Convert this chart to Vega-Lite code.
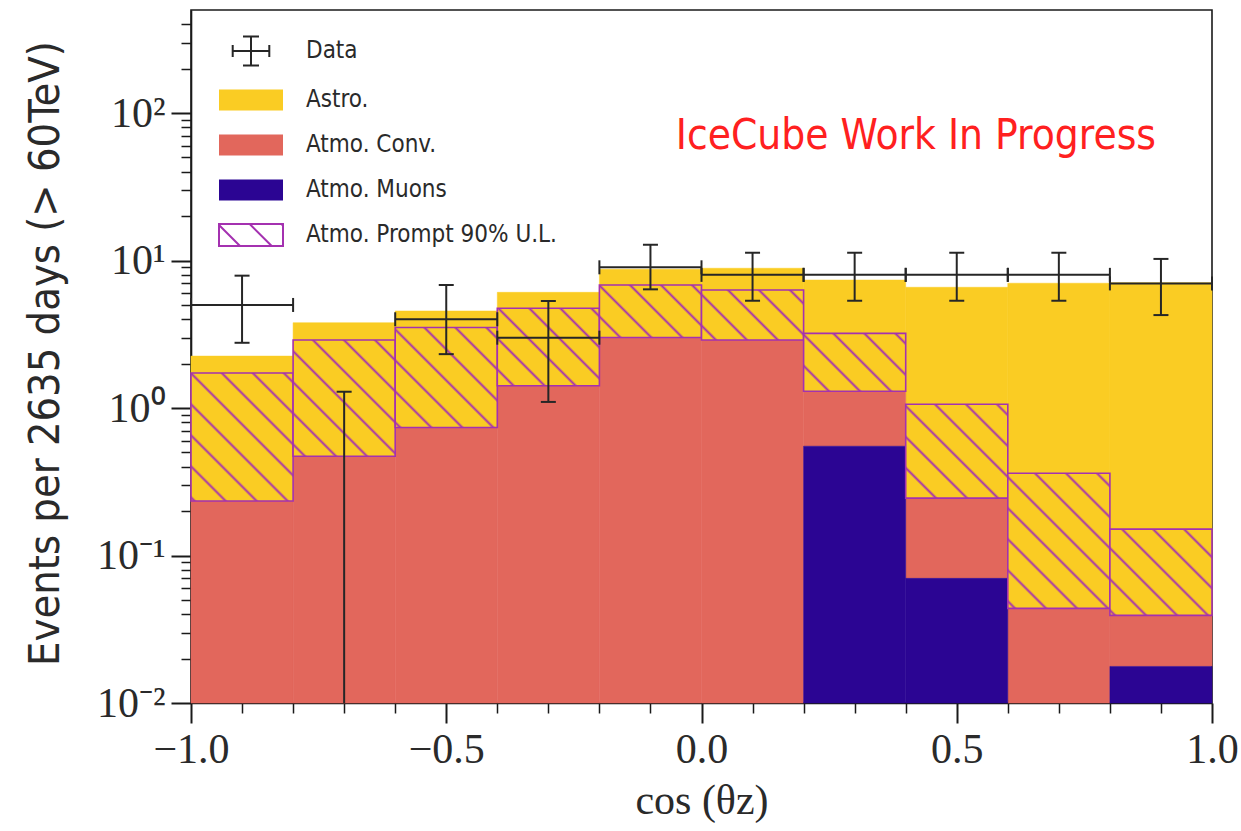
{
  "$schema": "https://vega.github.io/schema/vega-lite/v6.json",
  "width": 1021,
  "height": 693,
  "autosize": {"type": "none"},
  "padding": {"left": 191, "top": 10, "right": 29, "bottom": 128},
  "background": "white",
  "config": {
    "view": {"stroke": "#1a1a1a", "strokeWidth": 1.6},
    "axis": {"grid": false, "domainColor": "#1a1a1a", "domainWidth": 1.6, "tickColor": "#1a1a1a", "labelColor": "#2a2a2a", "titleColor": "#2a2a2a", "titleFontWeight": "normal"}
  },
  "datasets": {
    "hist": [
      {"bin": 1, "lo": -1.0, "hi": -0.8, "muon": 0, "conv": 0.234, "prompt": 1.73, "total": 2.25},
      {"bin": 2, "lo": -0.8, "hi": -0.6, "muon": 0, "conv": 0.471, "prompt": 2.89, "total": 3.79},
      {"bin": 3, "lo": -0.6, "hi": -0.4, "muon": 0, "conv": 0.738, "prompt": 3.52, "total": 4.55},
      {"bin": 4, "lo": -0.4, "hi": -0.2, "muon": 0, "conv": 1.415, "prompt": 4.75, "total": 6.09},
      {"bin": 5, "lo": -0.2, "hi": 0.0, "muon": 0, "conv": 3.01, "prompt": 6.83, "total": 8.73},
      {"bin": 6, "lo": 0.0, "hi": 0.2, "muon": 0, "conv": 2.89, "prompt": 6.31, "total": 8.87},
      {"bin": 7, "lo": 0.2, "hi": 0.4, "muon": 0.551, "conv": 1.30, "prompt": 3.21, "total": 7.38},
      {"bin": 8, "lo": 0.4, "hi": 0.6, "muon": 0.070, "conv": 0.245, "prompt": 1.06, "total": 6.59},
      {"bin": 9, "lo": 0.6, "hi": 0.8, "muon": 0, "conv": 0.0438, "prompt": 0.361, "total": 7.02},
      {"bin": 10, "lo": 0.8, "hi": 1.0, "muon": 0.0177, "conv": 0.0393, "prompt": 0.151, "total": 7.08}
    ],
    "obs": [
      {"c": -0.9, "lo": -1.0, "hi": -0.8, "n": 5, "elo": 2.77, "ehi": 7.90},
      {"c": -0.7, "lo": -0.8, "hi": -0.6, "n": 0, "elo": 0, "ehi": 1.29},
      {"c": -0.5, "lo": -0.6, "hi": -0.4, "n": 4, "elo": 2.32, "ehi": 6.83},
      {"c": -0.3, "lo": -0.4, "hi": -0.2, "n": 3, "elo": 1.10, "ehi": 5.32},
      {"c": -0.1, "lo": -0.2, "hi": 0.0, "n": 9, "elo": 6.38, "ehi": 12.8},
      {"c": 0.1, "lo": 0.0, "hi": 0.2, "n": 8, "elo": 5.34, "ehi": 11.3},
      {"c": 0.3, "lo": 0.2, "hi": 0.4, "n": 8, "elo": 5.34, "ehi": 11.3},
      {"c": 0.5, "lo": 0.4, "hi": 0.6, "n": 8, "elo": 5.34, "ehi": 11.3},
      {"c": 0.7, "lo": 0.6, "hi": 0.8, "n": 8, "elo": 5.34, "ehi": 11.3},
      {"c": 0.9, "lo": 0.8, "hi": 1.0, "n": 7, "elo": 4.27, "ehi": 10.26}
    ]
  },
  "resolve": {"axis": {"x": "independent", "y": "independent"}},
  "layer": [
    {
      "data": {"name": "hist"},
      "mark": {"type": "rect", "fill": "#FACC23", "stroke": "#FACC23", "strokeWidth": 0.5},
      "encoding": {
        "x": {"field": "lo", "type": "quantitative", "scale": {"domain": [-1, 1], "nice": false, "zero": false},
          "axis": {"orient": "bottom", "values": [-1, -0.5, 0, 0.5, 1], "format": ".1f", "tickSize": 20, "tickWidth": 2, "labelPadding": 6, "labelFont": "Liberation Serif", "labelFontSize": 42, "labelFlush": false, "labelOverlap": false, "title": "cos (θz)", "titleFont": "Liberation Serif", "titleFontSize": 42, "titleX": 510.5, "titleY": 97, "titleBaseline": "middle", "titleAlign": "center"}},
        "x2": {"field": "hi"},
        "y": {"field": "total", "type": "quantitative", "scale": {"type": "log", "domain": [0.01, 500], "nice": false, "clamp": true},
          "axis": {"orient": "left", "values": [0.01, 0.1, 1, 10, 100], "labelExpr": "datum.value < 0.05 ? '10⁻²' : datum.value < 0.5 ? '10⁻¹' : datum.value < 5 ? '10⁰' : datum.value < 50 ? '10¹' : '10²'", "tickSize": 20, "tickWidth": 2, "labelPadding": 6, "labelFont": "Liberation Serif", "labelFontSize": 42, "labelFlush": false, "labelOverlap": false, "title": "Events per 2635 days (> 60TeV)", "titleFont": "DejaVu Sans Condensed, Liberation Sans Narrow, DejaVu Sans", "titleFontSize": 43, "titleX": -146, "titleY": 343, "titleAngle": -90, "titleAlign": "center", "titleBaseline": "middle"}},
        "y2": {"field": "conv"}
      }
    },
    {
      "data": {"name": "hist"},
      "mark": {"type": "rect", "fill": "#E2675C", "stroke": "#E2675C", "strokeWidth": 0.5},
      "encoding": {
        "x": {"field": "lo", "type": "quantitative", "scale": {"domain": [-1, 1], "nice": false, "zero": false},
          "axis": {"orient": "bottom", "values": [-0.9, -0.8, -0.7, -0.6, -0.4, -0.3, -0.2, -0.1, 0.1, 0.2, 0.3, 0.4, 0.6, 0.7, 0.8, 0.9], "labels": false, "domain": false, "tickSize": 10, "tickWidth": 1.5, "title": null}},
        "x2": {"field": "hi"},
        "y": {"field": "conv", "type": "quantitative", "scale": {"type": "log", "domain": [0.01, 500], "nice": false, "clamp": true},
          "axis": {"orient": "left", "values": [0.02, 0.03, 0.04, 0.05, 0.06, 0.07, 0.08, 0.09, 0.2, 0.3, 0.4, 0.5, 0.6, 0.7, 0.8, 0.9, 2, 3, 4, 5, 6, 7, 8, 9, 20, 30, 40, 50, 60, 70, 80, 90, 200, 300, 400], "labels": false, "domain": false, "tickSize": 10, "tickWidth": 1.5, "title": null}},
        "y2": {"field": "muon"}
      }
    },
    {
      "data": {"name": "hist"},
      "transform": [{"filter": "datum.muon > 0"}],
      "mark": {"type": "rect", "fill": "#2B0593", "stroke": "#2B0593", "strokeWidth": 0.5},
      "encoding": {
        "x": {"field": "lo", "type": "quantitative", "axis": null},
        "x2": {"field": "hi"},
        "y": {"field": "muon", "type": "quantitative", "axis": null},
        "y2": {"datum": 0}
      }
    },
    {
      "data": {"name": "hist"},
      "mark": {"type": "rect", "stroke": "#A431B0", "strokeWidth": 1.6},
      "encoding": {
        "x": {"field": "lo", "type": "quantitative", "axis": null},
        "x2": {"field": "hi"},
        "y": {"field": "prompt", "type": "quantitative", "axis": null},
        "y2": {"field": "conv"},
        "fill": {
          "condition": [
            {"test": "datum.bin == 1", "value": {"gradient": "linear", "x1": 0, "y1": 1, "x2": 0.8763, "y2": -0.0986, "stops": [
              {"offset": 0.0039, "color": "#FACC23"}, {"offset": 0.0161, "color": "#A431B0"}, {"offset": 0.0283, "color": "#FACC23"},
              {"offset": 0.1386, "color": "#FACC23"}, {"offset": 0.1508, "color": "#A431B0"}, {"offset": 0.1630, "color": "#FACC23"},
              {"offset": 0.2733, "color": "#FACC23"}, {"offset": 0.2855, "color": "#A431B0"}, {"offset": 0.2977, "color": "#FACC23"},
              {"offset": 0.4081, "color": "#FACC23"}, {"offset": 0.4203, "color": "#A431B0"}, {"offset": 0.4325, "color": "#FACC23"},
              {"offset": 0.5428, "color": "#FACC23"}, {"offset": 0.5550, "color": "#A431B0"}, {"offset": 0.5672, "color": "#FACC23"},
              {"offset": 0.6775, "color": "#FACC23"}, {"offset": 0.6897, "color": "#A431B0"}, {"offset": 0.7019, "color": "#FACC23"},
              {"offset": 0.8122, "color": "#FACC23"}, {"offset": 0.8244, "color": "#A431B0"}, {"offset": 0.8366, "color": "#FACC23"},
              {"offset": 0.9469, "color": "#FACC23"}, {"offset": 0.9591, "color": "#A431B0"}, {"offset": 0.9713, "color": "#FACC23"}]}},
            {"test": "datum.bin == 2", "value": {"gradient": "linear", "x1": 0, "y1": 1, "x2": 0.9325, "y2": -0.0595, "stops": [
              {"offset": 0.0418, "color": "#FACC23"}, {"offset": 0.0546, "color": "#A431B0"}, {"offset": 0.0674, "color": "#FACC23"},
              {"offset": 0.1839, "color": "#FACC23"}, {"offset": 0.1967, "color": "#A431B0"}, {"offset": 0.2095, "color": "#FACC23"},
              {"offset": 0.3260, "color": "#FACC23"}, {"offset": 0.3388, "color": "#A431B0"}, {"offset": 0.3516, "color": "#FACC23"},
              {"offset": 0.4682, "color": "#FACC23"}, {"offset": 0.4810, "color": "#A431B0"}, {"offset": 0.4938, "color": "#FACC23"},
              {"offset": 0.6103, "color": "#FACC23"}, {"offset": 0.6231, "color": "#A431B0"}, {"offset": 0.6359, "color": "#FACC23"},
              {"offset": 0.7524, "color": "#FACC23"}, {"offset": 0.7652, "color": "#A431B0"}, {"offset": 0.7780, "color": "#FACC23"},
              {"offset": 0.8946, "color": "#FACC23"}, {"offset": 0.9074, "color": "#A431B0"}, {"offset": 0.9202, "color": "#FACC23"}]}},
            {"test": "datum.bin == 3", "value": {"gradient": "linear", "x1": 0, "y1": 1, "x2": 1.0103, "y2": 0.0105, "stops": [
              {"offset": 0.0113, "color": "#FACC23"}, {"offset": 0.0252, "color": "#A431B0"}, {"offset": 0.0391, "color": "#FACC23"},
              {"offset": 0.1647, "color": "#FACC23"}, {"offset": 0.1786, "color": "#A431B0"}, {"offset": 0.1925, "color": "#FACC23"},
              {"offset": 0.3181, "color": "#FACC23"}, {"offset": 0.3320, "color": "#A431B0"}, {"offset": 0.3459, "color": "#FACC23"},
              {"offset": 0.4715, "color": "#FACC23"}, {"offset": 0.4854, "color": "#A431B0"}, {"offset": 0.4993, "color": "#FACC23"},
              {"offset": 0.6249, "color": "#FACC23"}, {"offset": 0.6388, "color": "#A431B0"}, {"offset": 0.6527, "color": "#FACC23"},
              {"offset": 0.7783, "color": "#FACC23"}, {"offset": 0.7922, "color": "#A431B0"}, {"offset": 0.8061, "color": "#FACC23"},
              {"offset": 0.9317, "color": "#FACC23"}, {"offset": 0.9456, "color": "#A431B0"}, {"offset": 0.9595, "color": "#FACC23"}]}},
            {"test": "datum.bin == 4", "value": {"gradient": "linear", "x1": 0, "y1": 1, "x2": 1.1165, "y2": 0.1536, "stops": [
              {"offset": 0.0758, "color": "#FACC23"}, {"offset": 0.0914, "color": "#A431B0"}, {"offset": 0.1070, "color": "#FACC23"},
              {"offset": 0.2485, "color": "#FACC23"}, {"offset": 0.2641, "color": "#A431B0"}, {"offset": 0.2797, "color": "#FACC23"},
              {"offset": 0.4212, "color": "#FACC23"}, {"offset": 0.4368, "color": "#A431B0"}, {"offset": 0.4524, "color": "#FACC23"},
              {"offset": 0.5939, "color": "#FACC23"}, {"offset": 0.6095, "color": "#A431B0"}, {"offset": 0.6251, "color": "#FACC23"},
              {"offset": 0.7666, "color": "#FACC23"}, {"offset": 0.7822, "color": "#A431B0"}, {"offset": 0.7978, "color": "#FACC23"},
              {"offset": 0.9393, "color": "#FACC23"}, {"offset": 0.9549, "color": "#A431B0"}, {"offset": 0.9705, "color": "#FACC23"}]}},
            {"test": "datum.bin == 5", "value": {"gradient": "linear", "x1": 0, "y1": 1, "x2": 1.1979, "y2": 0.3864, "stops": [
              {"offset": 0.1173, "color": "#FACC23"}, {"offset": 0.1354, "color": "#A431B0"}, {"offset": 0.1535, "color": "#FACC23"},
              {"offset": 0.3180, "color": "#FACC23"}, {"offset": 0.3361, "color": "#A431B0"}, {"offset": 0.3542, "color": "#FACC23"},
              {"offset": 0.5188, "color": "#FACC23"}, {"offset": 0.5369, "color": "#A431B0"}, {"offset": 0.5550, "color": "#FACC23"},
              {"offset": 0.7196, "color": "#FACC23"}, {"offset": 0.7377, "color": "#A431B0"}, {"offset": 0.7558, "color": "#FACC23"},
              {"offset": 0.9204, "color": "#FACC23"}, {"offset": 0.9385, "color": "#A431B0"}, {"offset": 0.9566, "color": "#FACC23"}]}},
            {"test": "datum.bin == 6", "value": {"gradient": "linear", "x1": 0, "y1": 1, "x2": 1.2016, "y2": 0.4116, "stops": [
              {"offset": 0.0769, "color": "#FACC23"}, {"offset": 0.0953, "color": "#A431B0"}, {"offset": 0.1137, "color": "#FACC23"},
              {"offset": 0.2807, "color": "#FACC23"}, {"offset": 0.2991, "color": "#A431B0"}, {"offset": 0.3175, "color": "#FACC23"},
              {"offset": 0.4846, "color": "#FACC23"}, {"offset": 0.5030, "color": "#A431B0"}, {"offset": 0.5214, "color": "#FACC23"},
              {"offset": 0.6884, "color": "#FACC23"}, {"offset": 0.7068, "color": "#A431B0"}, {"offset": 0.7252, "color": "#FACC23"},
              {"offset": 0.8922, "color": "#FACC23"}, {"offset": 0.9106, "color": "#A431B0"}, {"offset": 0.9290, "color": "#FACC23"}]}},
            {"test": "datum.bin == 7", "value": {"gradient": "linear", "x1": 0, "y1": 1, "x2": 1.1863, "y2": 0.3296, "stops": [
              {"offset": 0.1414, "color": "#FACC23"}, {"offset": 0.1589, "color": "#A431B0"}, {"offset": 0.1764, "color": "#FACC23"},
              {"offset": 0.3354, "color": "#FACC23"}, {"offset": 0.3529, "color": "#A431B0"}, {"offset": 0.3704, "color": "#FACC23"},
              {"offset": 0.5294, "color": "#FACC23"}, {"offset": 0.5469, "color": "#A431B0"}, {"offset": 0.5644, "color": "#FACC23"},
              {"offset": 0.7234, "color": "#FACC23"}, {"offset": 0.7409, "color": "#A431B0"}, {"offset": 0.7584, "color": "#FACC23"},
              {"offset": 0.9174, "color": "#FACC23"}, {"offset": 0.9349, "color": "#A431B0"}, {"offset": 0.9524, "color": "#FACC23"}]}},
            {"test": "datum.bin == 8", "value": {"gradient": "linear", "x1": 0, "y1": 1, "x2": 1.0395, "y2": 0.0430, "stops": [
              {"offset": 0.1402, "color": "#FACC23"}, {"offset": 0.1545, "color": "#A431B0"}, {"offset": 0.1688, "color": "#FACC23"},
              {"offset": 0.2983, "color": "#FACC23"}, {"offset": 0.3126, "color": "#A431B0"}, {"offset": 0.3269, "color": "#FACC23"},
              {"offset": 0.4564, "color": "#FACC23"}, {"offset": 0.4707, "color": "#A431B0"}, {"offset": 0.4850, "color": "#FACC23"},
              {"offset": 0.6145, "color": "#FACC23"}, {"offset": 0.6288, "color": "#A431B0"}, {"offset": 0.6431, "color": "#FACC23"},
              {"offset": 0.7725, "color": "#FACC23"}, {"offset": 0.7868, "color": "#A431B0"}, {"offset": 0.8011, "color": "#FACC23"},
              {"offset": 0.9306, "color": "#FACC23"}, {"offset": 0.9449, "color": "#A431B0"}, {"offset": 0.9592, "color": "#FACC23"}]}},
            {"test": "datum.bin == 9", "value": {"gradient": "linear", "x1": 0, "y1": 1, "x2": 0.8450, "y2": -0.1173, "stops": [
              {"offset": 0.0186, "color": "#FACC23"}, {"offset": 0.0304, "color": "#A431B0"}, {"offset": 0.0422, "color": "#FACC23"},
              {"offset": 0.1493, "color": "#FACC23"}, {"offset": 0.1611, "color": "#A431B0"}, {"offset": 0.1729, "color": "#FACC23"},
              {"offset": 0.2801, "color": "#FACC23"}, {"offset": 0.2919, "color": "#A431B0"}, {"offset": 0.3037, "color": "#FACC23"},
              {"offset": 0.4108, "color": "#FACC23"}, {"offset": 0.4226, "color": "#A431B0"}, {"offset": 0.4344, "color": "#FACC23"},
              {"offset": 0.5416, "color": "#FACC23"}, {"offset": 0.5534, "color": "#A431B0"}, {"offset": 0.5652, "color": "#FACC23"},
              {"offset": 0.6723, "color": "#FACC23"}, {"offset": 0.6841, "color": "#A431B0"}, {"offset": 0.6959, "color": "#FACC23"},
              {"offset": 0.8031, "color": "#FACC23"}, {"offset": 0.8149, "color": "#A431B0"}, {"offset": 0.8267, "color": "#FACC23"},
              {"offset": 0.9338, "color": "#FACC23"}, {"offset": 0.9456, "color": "#A431B0"}, {"offset": 0.9574, "color": "#FACC23"}]}},
            {"test": "datum.bin == 10", "value": {"gradient": "linear", "x1": 0, "y1": 1, "x2": 1.0777, "y2": 0.0922, "stops": [
              {"offset": 0.0122, "color": "#FACC23"}, {"offset": 0.0271, "color": "#A431B0"}, {"offset": 0.0420, "color": "#FACC23"},
              {"offset": 0.1770, "color": "#FACC23"}, {"offset": 0.1919, "color": "#A431B0"}, {"offset": 0.2068, "color": "#FACC23"},
              {"offset": 0.3418, "color": "#FACC23"}, {"offset": 0.3567, "color": "#A431B0"}, {"offset": 0.3716, "color": "#FACC23"},
              {"offset": 0.5066, "color": "#FACC23"}, {"offset": 0.5215, "color": "#A431B0"}, {"offset": 0.5364, "color": "#FACC23"},
              {"offset": 0.6714, "color": "#FACC23"}, {"offset": 0.6863, "color": "#A431B0"}, {"offset": 0.7012, "color": "#FACC23"},
              {"offset": 0.8362, "color": "#FACC23"}, {"offset": 0.8511, "color": "#A431B0"}, {"offset": 0.8660, "color": "#FACC23"}]}}
          ],
          "value": "#FACC23"
        }
      }
    },
    {
      "data": {"name": "obs"},
      "mark": {"type": "rule", "color": "#262626", "strokeWidth": 2},
      "encoding": {
        "x": {"field": "c", "type": "quantitative", "axis": null},
        "y": {"field": "ehi", "type": "quantitative", "axis": null},
        "y2": {"field": "elo"}
      }
    },
    {
      "data": {"name": "obs"},
      "transform": [{"filter": "datum.n > 0"}],
      "mark": {"type": "rule", "color": "#262626", "strokeWidth": 2},
      "encoding": {
        "x": {"field": "lo", "type": "quantitative", "axis": null},
        "x2": {"field": "hi"},
        "y": {"field": "n", "type": "quantitative", "axis": null}
      }
    },
    {
      "data": {"name": "obs"},
      "mark": {"type": "tick", "orient": "horizontal", "size": 15, "thickness": 2, "color": "#262626", "opacity": 1},
      "encoding": {
        "x": {"field": "c", "type": "quantitative", "axis": null},
        "y": {"field": "ehi", "type": "quantitative", "axis": null}
      }
    },
    {
      "data": {"name": "obs"},
      "transform": [{"filter": "datum.elo > 0"}],
      "mark": {"type": "tick", "orient": "horizontal", "size": 15, "thickness": 2, "color": "#262626", "opacity": 1},
      "encoding": {
        "x": {"field": "c", "type": "quantitative", "axis": null},
        "y": {"field": "elo", "type": "quantitative", "axis": null}
      }
    },
    {
      "data": {"name": "obs"},
      "transform": [{"filter": "datum.n > 0"}],
      "mark": {"type": "tick", "orient": "vertical", "size": 14, "thickness": 2, "color": "#262626", "opacity": 1},
      "encoding": {
        "x": {"field": "lo", "type": "quantitative", "axis": null},
        "y": {"field": "n", "type": "quantitative", "axis": null}
      }
    },
    {
      "data": {"name": "obs"},
      "transform": [{"filter": "datum.n > 0"}],
      "mark": {"type": "tick", "orient": "vertical", "size": 14, "thickness": 2, "color": "#262626", "opacity": 1},
      "encoding": {
        "x": {"field": "hi", "type": "quantitative", "axis": null},
        "y": {"field": "n", "type": "quantitative", "axis": null}
      }
    },
    {
      "data": {"values": [{}]},
      "mark": {"type": "text", "text": "IceCube Work In Progress", "font": "DejaVu Sans Condensed, Liberation Sans Narrow, DejaVu Sans", "fontSize": 42, "fill": "#FF2020", "align": "center", "baseline": "middle"},
      "encoding": {
        "x": {"datum": 0.42, "type": "quantitative", "axis": null},
        "y": {"datum": 70, "type": "quantitative", "axis": null}
      }
    },
    {
      "data": {"values": []},
      "mark": {"type": "point", "opacity": 1},
      "encoding": {
        "fill": {"field": "k", "type": "nominal", "title": null,
          "scale": {"domain": ["Data", "Astro.", "Atmo. Conv.", "Atmo. Muons", "Atmo. Prompt 90% U.L."], "range": ["transparent", "#FACC23", "#E2675C", "#2B0593", "transparent"]},
          "legend": {"orient": "none", "legendX": 48, "legendY": 29, "padding": 0, "symbolSize": 400, "symbolStrokeWidth": 2, "symbolOffset": 0, "labelFont": "DejaVu Sans Condensed, Liberation Sans Narrow, DejaVu Sans", "labelFontSize": 24, "labelColor": "#2a2a2a", "labelOffset": 43, "labelLimit": 600, "rowPadding": 15}},
        "stroke": {"field": "k", "type": "nominal", "title": null,
          "scale": {"domain": ["Data", "Astro.", "Atmo. Conv.", "Atmo. Muons", "Atmo. Prompt 90% U.L."], "range": ["#262626", "transparent", "transparent", "transparent", "#A431B0"]}},
        "shape": {"field": "k", "type": "nominal", "title": null,
          "scale": {"domain": ["Data", "Astro.", "Atmo. Conv.", "Atmo. Muons", "Atmo. Prompt 90% U.L."], "range": [
            "M-1.83,0H1.83M-1.83,-0.6V0.6M1.83,-0.6V0.6M0,-1.45V1.45M-0.8,-1.45H0.8M-0.8,1.45H0.8",
            "M-3.2,-1.05H3.2V1.05H-3.2Z",
            "M-3.2,-1.05H3.2V1.05H-3.2Z",
            "M-3.2,-1.05H3.2V1.05H-3.2Z",
            "M-3.2,-1.1H3.2V1.1H-3.2ZM-3.2,-1.0L-1.1,1.1M-0.13,-1.1L2.07,1.1M3.04,-1.1L3.2,-0.94"]}}
      }
    }
  ]
}
